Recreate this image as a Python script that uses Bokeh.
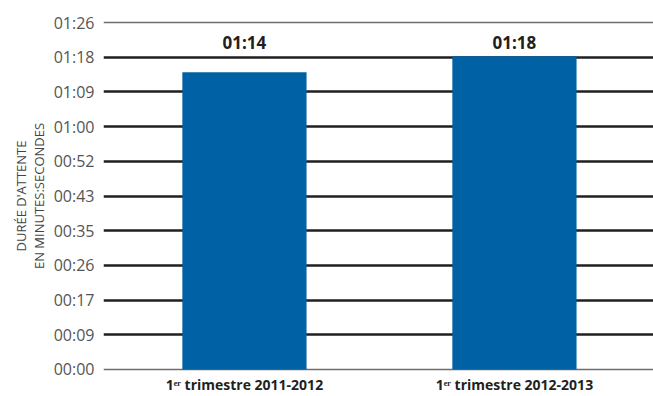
from bokeh.plotting import figure
from bokeh.models import Range1d, FixedTicker, CustomJSTickFormatter, Label, ColumnDataSource
from bokeh.embed import file_html
from bokeh.resources import INLINE

# ---- data ----
categories = ["1ᵉʳ trimestre 2011-2012", "1ᵉʳ trimestre 2012-2013"]
wait_seconds = [74, 78]          # 01:14 and 01:18
y_ticks = [0, 8.64, 17.28, 25.92, 34.56, 43.2, 51.84, 60.48, 69.12, 77.76, 86.4]
y_title = "DURÉE D'ATTENTE\nEN MINUTES:SECONDES"

def mmss(s):
    s = int(round(s))
    return "%02d:%02d" % (s // 60, s % 60)

FONT = "Open Sans"
xs = [i + 0.5 for i in range(len(categories))]
ymax = y_ticks[-1]

p = figure(width=653, height=396, output_backend="svg", toolbar_location=None,
           x_range=Range1d(-0.022, len(categories) + 0.015), y_range=Range1d(-0.5, ymax + 0.5),
           min_border_left=103, min_border_right=0, min_border_top=20, min_border_bottom=0)
p.outline_line_color = None
p.background_fill_color = "white"
p.border_fill_color = "white"

# x axis: category labels
xax = p.xaxis[0]
xax.ticker = FixedTicker(ticks=xs)
xax.major_label_overrides = {x: c for x, c in zip(xs, categories)}
xax.axis_line_color = None
xax.major_tick_line_color = None
xax.minor_tick_line_color = None
xax.major_tick_out = 0
xax.major_tick_in = 0
xax.minor_tick_out = 0
xax.minor_tick_in = 0
xax.major_label_text_font = FONT
xax.major_label_text_font_style = "bold"
xax.major_label_text_font_size = "14px"
xax.major_label_text_color = "#231f20"
xax.major_label_standoff = 3
p.xgrid.visible = False

# y axis: mm:ss ticks
yax = p.yaxis[0]
yax.ticker = FixedTicker(ticks=y_ticks)
yax.formatter = CustomJSTickFormatter(code="""
const s = Math.round(tick);
const m = Math.floor(s / 60);
const r = s % 60;
return String(m).padStart(2, '0') + ':' + String(r).padStart(2, '0');
""")
yax.axis_line_color = None
yax.major_tick_line_color = None
yax.minor_tick_line_color = None
yax.major_tick_out = 0
yax.major_tick_in = 0
yax.minor_tick_out = 0
yax.minor_tick_in = 0
yax.major_label_text_font = FONT
yax.major_label_text_font_size = "16px"
yax.major_label_text_color = "#555555"
yax.major_label_standoff = 9
yax.axis_label = y_title
yax.axis_label_text_font = FONT
yax.axis_label_text_font_size = "13px"
yax.axis_label_text_font_style = "normal"
yax.axis_label_text_color = "#444444"
yax.axis_label_text_line_height = 1.0
yax.axis_label_standoff = 3

p.ygrid.ticker = FixedTicker(ticks=y_ticks[1:-1])
p.ygrid.grid_line_color = "#231f20"
p.ygrid.grid_line_width = 2.5

# top and bottom border lines (grey)
p.hspan(y=[y_ticks[0], y_ticks[-1]], line_color="#6d6e71", line_width=1.5)

src = ColumnDataSource(dict(x=xs, top=wait_seconds,
                            lab=[mmss(v) for v in wait_seconds]))
p.vbar(x="x", top="top", width=0.46, bottom=0, source=src,
       fill_color="#0062a5", line_color=None)

# value labels near top
label_y = 81.3
for x, t in zip(xs, src.data["lab"]):
    p.add_layout(Label(x=x, y=label_y, text=t, text_align="center", text_baseline="middle",
                       text_font=FONT, text_font_style="bold", text_font_size="17px",
                       text_color="#231f20"))

open("out.html", "w").write(file_html(p, INLINE))
